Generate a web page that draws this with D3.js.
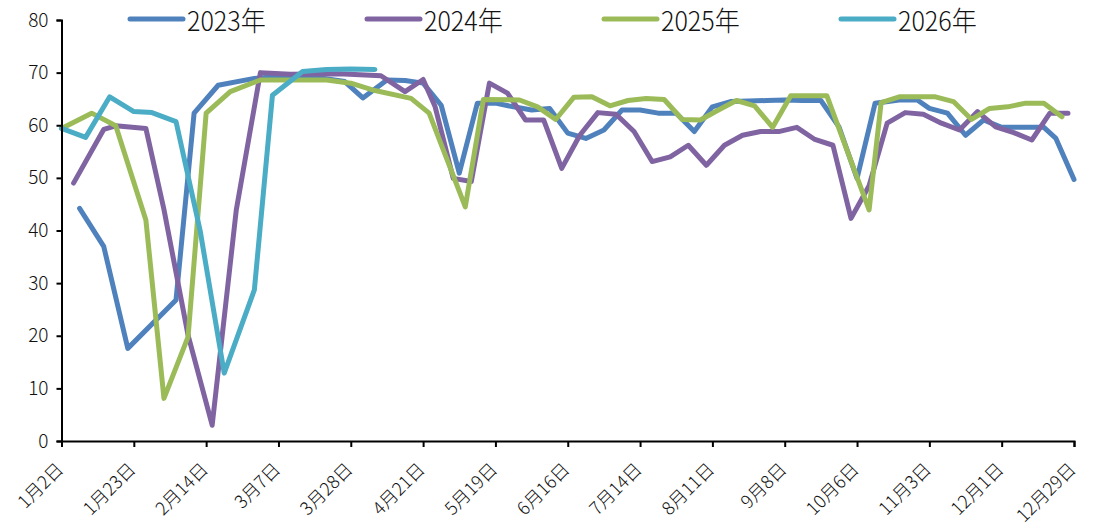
<!DOCTYPE html>
<html>
<head>
<meta charset="utf-8">
<script src="https://cdn.jsdelivr.net/npm/d3@7"></script>
<style>
  body { margin: 0; background: #fff; }
  svg text { font-family: "Noto Sans CJK SC", "Noto Sans", sans-serif; font-weight: 300; fill: #111; }
</style>
</head>
<body>
<div id="viz"></div>
<script>
// x labels sit on every 12th category of a 169-category date axis
var tickLabels = ["1月2日","1月23日","2月14日","3月7日","3月28日","4月21日","5月19日","6月16日","7月14日","8月11日","9月8日","10月6日","11月3日","12月1日","12月29日"];
var tickEvery = 12;
var years = ["2023年","2024年","2025年","2026年"];

// each year has values only on some categories (gaps joined by the line)
var idx2023 = [3,7,11,19,22,26,32,37,43,47,50,54,57,60,63,66,69,72,75,78,81,84,87,90,93,96,99,102,105,108,111,114,117,120,123,126,129,132,135,139,142,144,147,150,153,156,159,163,165,168];
var val2023 = [44.2,37.0,17.6,26.8,62.3,67.6,68.9,69.4,69.0,68.3,65.2,68.6,68.5,68.0,63.8,50.9,64.2,64.2,63.5,62.9,63.2,58.5,57.5,59.1,62.9,62.9,62.3,62.3,58.8,63.5,64.5,64.6,64.7,64.8,64.7,64.7,59.7,49.9,64.2,64.8,64.8,63.2,62.3,58.1,61.0,59.6,59.6,59.6,57.5,49.7];

var idx2024 = [2,7,9,14,17,21,25,29,33,38,46,53,57,60,62,65,68,71,74,77,80,83,86,89,92,95,98,101,104,107,110,113,116,119,122,125,128,131,134,137,140,143,146,149,152,155,158,161,164,167];
var val2024 = [49.0,59.2,59.9,59.4,44.0,20.1,3.0,43.9,70.0,69.7,69.8,69.4,66.4,68.7,63.5,49.9,49.3,68.0,66.1,61.0,61.0,51.8,58.1,62.4,62.1,58.8,53.1,54.0,56.2,52.4,56.2,58.1,58.8,58.8,59.6,57.3,56.2,42.3,48.5,60.4,62.4,62.1,60.4,59.1,62.6,59.7,58.6,57.2,62.3,62.3];

var idx2025 = [0,5,9,14,17,21,24,28,33,39,44,48,52,58,61,67,70,76,79,82,85,88,91,94,97,100,103,106,109,112,115,118,121,127,134,136,139,145,148,151,154,157,160,163,166];
var val2025 = [59.4,62.3,59.9,42.0,8.1,19.8,62.3,66.4,68.6,68.6,68.6,68.0,66.6,65.1,62.3,44.5,64.9,64.8,63.5,61.1,65.3,65.4,63.7,64.7,65.1,64.9,61.1,61.0,62.9,64.7,63.7,59.6,65.6,65.6,43.9,64.3,65.4,65.4,64.5,61.1,63.2,63.5,64.2,64.2,61.6];

var idx2026 = [0,4,8,12,15,19,23,27,32,35,40,44,48,52];
var val2026 = [59.4,57.7,65.4,62.6,62.4,60.7,40.0,12.9,28.7,65.7,70.2,70.6,70.7,70.6];

var colors = ["#4F81BD","#8064A2","#9BBB59","#4BACC6"];

var series = [
  {name: years[0], idx: idx2023, val: val2023},
  {name: years[1], idx: idx2024, val: val2024},
  {name: years[2], idx: idx2025, val: val2025},
  {name: years[3], idx: idx2026, val: val2026}
];

var W = 1099, H = 528;
var margin = {top: 20, right: 25, bottom: 87, left: 61.5};
var width = W - margin.left - margin.right,
    height = H - margin.top - margin.bottom;

var nCat = (tickLabels.length - 1) * tickEvery;

var x = d3.scaleLinear().domain([0, nCat]).range([0, width]);
var y = d3.scaleLinear().domain([0, 80]).range([height, 0]);

var svg = d3.select("#viz").append("svg")
    .attr("width", W)
    .attr("height", H);

var g = svg.append("g")
    .attr("transform", "translate(" + margin.left + "," + margin.top + ")");

var line = d3.line()
    .x(function(d) { return x(d[0]); })
    .y(function(d) { return y(d[1]); });

series.forEach(function(s, i) {
  var pts = s.idx.map(function(k, j) { return [k, s.val[j]]; });
  g.append("path")
      .datum(pts)
      .attr("fill", "none")
      .attr("stroke", colors[i])
      .attr("stroke-width", 5)
      .attr("stroke-linejoin", "round")
      .attr("stroke-linecap", "round")
      .attr("d", line);
});

// axes
var yAxis = g.append("g")
    .call(d3.axisLeft(y).tickValues(d3.range(0, 81, 10)).tickSize(5).tickPadding(8));
yAxis.selectAll("text").style("font-size", "19px");

var xTicks = d3.range(0, nCat + 1, tickEvery);
var xAxis = g.append("g")
    .attr("transform", "translate(0," + height + ")")
    .call(d3.axisBottom(x).tickValues(xTicks).tickSize(6)
      .tickFormat(function(d) { return tickLabels[d / tickEvery]; }));
xAxis.selectAll("text")
    .style("font-size", "18px")
    .style("text-anchor", "end")
    .attr("x", 0)
    .attr("y", 0)
    .attr("dy", "0.35em")
    .attr("transform", "translate(-2,25) rotate(-45)");

g.selectAll(".domain, .tick line")
    .attr("stroke", "#000")
    .attr("stroke-width", 2);

// legend
var legend = svg.append("g");
series.forEach(function(s, i) {
  var lx = 130 + i * 237;
  legend.append("line")
      .attr("x1", lx).attr("x2", lx + 53)
      .attr("y1", 19).attr("y2", 19)
      .attr("stroke", colors[i])
      .attr("stroke-width", 5)
      .attr("stroke-linecap", "round");
  legend.append("text")
      .attr("transform", "translate(" + (lx + 57) + ",31) scale(0.93,1)")
      .style("font-size", "27px")
      .text(s.name);
});
</script>
</body>
</html>
